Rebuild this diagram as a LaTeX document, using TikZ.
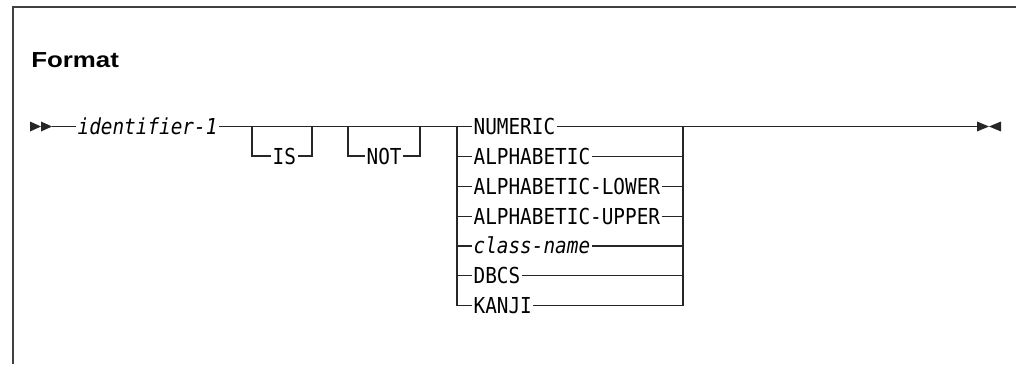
\documentclass[tikz,border=0pt]{standalone}
\usepackage{fontspec}
\setmainfont{Liberation Sans}
\newfontfamily\headfont[FakeStretch=1.19]{Liberation Sans}
\newfontfamily\diagmono[FakeStretch=0.88]{DejaVu Sans Mono}
\usetikzlibrary{positioning}

\begin{document}
\begin{tikzpicture}[x=0.75pt, y=-0.75pt,
                frame/.style={draw=black!75, line width=0.9pt},
                rail/.style={draw=black!85, line width=0.8pt},
                keyword/.style={font=\diagmono\fontsize{16.5}{18}\selectfont, inner sep=1pt, text height=12pt, text depth=0pt, anchor=west},
                varword/.style={keyword, font=\diagmono\itshape\fontsize{16.5}{18}\selectfont},
                choice/.style={keyword, below right=8pt and 0pt of #1.south west, anchor=north west},
                tip/.style={fill=black!85}
            ]
            \useasboundingbox (0,0) rectangle (1016,364);

            % Rahmen und Titel
            \draw[frame] (13,364) -- (13,7) -- (1016,7);
            \node[anchor=west, inner sep=0pt, font=\headfont\bfseries\fontsize{16.3}{18}\selectfont] (title) at (31,60.5) {Format};

            % Knoten
            \coordinate (beg) at (52,126.5);
            \node[varword] (id) at (76,126.5) {identifier-1};
            \coordinate (isL) at (252,126.5);
            \coordinate (isR) at (312,126.5);
            \node[keyword] (is) at (271,156) {IS};
            \coordinate (notL) at (348,126.5);
            \coordinate (notR) at (420,126.5);
            \node[keyword] (not) at (365,156) {NOT};
            \coordinate (chL) at (457,126.5);
            \coordinate (chR) at (683,126.5);
            \node[keyword] (num) at (472,126.5) {NUMERIC};
            \node[choice=num] (alpha) {ALPHABETIC};
            \node[choice=alpha] (lower) {ALPHABETIC-LOWER};
            \node[choice=lower] (upper) {ALPHABETIC-UPPER};
            \node[choice=upper, font=\diagmono\itshape\fontsize{16.5}{18}\selectfont] (cls) {class-name};
            \node[choice=cls] (dbcs) {DBCS};
            \node[choice=dbcs] (kanji) {KANJI};
            \coordinate (fin) at (977,126.5);

            % Pfeilspitzen
            \fill[tip] ([xshift=-16.5pt]beg) ++(0,-5) -- ++(11,5) -- ++(-11,5) -- cycle;
            \fill[tip] ([xshift=-8.25pt]beg) ++(0,-5) -- ++(11,5) -- ++(-11,5) -- cycle;
            \fill[tip] (fin) ++(0,-5) -- ++(12,5) -- ++(-12,5) -- cycle;
            \fill[tip] ([xshift=18pt]fin) ++(0,-5) -- ++(-12,5) -- ++(12,5) -- cycle;

            % Kanten zwischen Knoten
            \draw[rail] (beg) -- (id.west);
            \draw[rail] (id.east) -- (num.west);
            \draw[rail] (isL) |- (is.west);
            \draw[rail] (is.east) -| (isR);
            \draw[rail] (notL) |- (not.west);
            \draw[rail] (not.east) -| (notR);
            \draw[rail] (chL) |- (kanji.west);
            \draw[rail] (chL |- alpha.west) -- (alpha.west);
            \draw[rail] (chL |- lower.west) -- (lower.west);
            \draw[rail] (chL |- upper.west) -- (upper.west);
            \draw[rail] (chL |- cls.west) -- (cls.west);
            \draw[rail] (chL |- dbcs.west) -- (dbcs.west);
            \draw[rail] (num.east) -- (chR) -- (fin);
            \draw[rail] (alpha.east) -- (chR |- alpha.east);
            \draw[rail] (lower.east) -- (chR |- lower.east);
            \draw[rail] (upper.east) -- (chR |- upper.east);
            \draw[rail] (cls.east) -- (chR |- cls.east);
            \draw[rail] (dbcs.east) -- (chR |- dbcs.east);
            \draw[rail] (kanji.east) -| (chR);

        \end{tikzpicture}
\end{document}
